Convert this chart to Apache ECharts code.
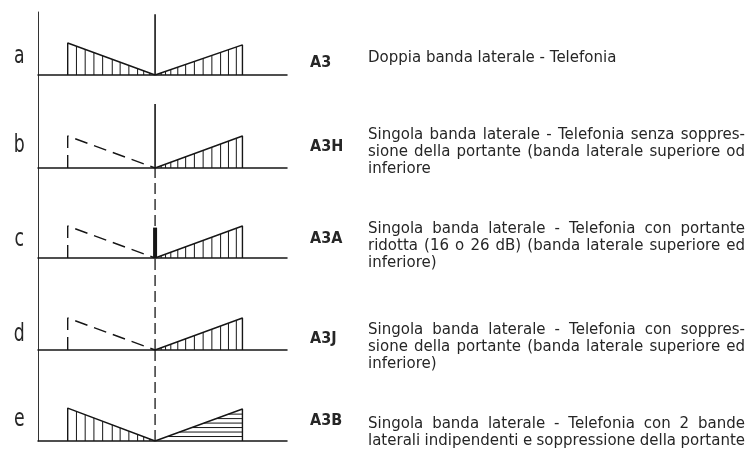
<!DOCTYPE html>
<html>
<head>
<meta charset="utf-8">
<script src="https://cdn.jsdelivr.net/npm/echarts@6/dist/echarts.min.js"></script>
<style>
  html, body { margin: 0; padding: 0; background: #fff; }
  #main { width: 750px; height: 449px; }
</style>
</head>
<body>
<div id="main"></div>
<script>
// --- data ---
var panels = ['a', 'b', 'c', 'd', 'e'];
var codes = ['A3', 'A3H', 'A3A', 'A3J', 'A3B'];
// sideband amplitude (1 = nominal sideband)
var lowerAmp = [1.0, 1.0, 1.0, 1.0, 1.03];
var upperAmp = [0.94, 1.0, 1.0, 1.0, 1.0];
// carrier amplitude, 0 = suppressed
var carrierAmp = [1.9, 2.0, 0.95, 0, 0];
// lower sideband suppressed (drawn dashed)
var lowerSuppressed = [false, true, true, true, false];
// upper sideband hatched horizontally (independent sideband)
var upperHorizontal = [false, false, false, false, true];
// hatch positions (frequency offset from carrier, band edge = 1)
var hatchLower = [-0.9, -0.8, -0.7, -0.6, -0.49, -0.4, -0.3, -0.2, -0.13, -0.06];
var hatchUpper = [0.07, 0.12, 0.18, 0.26, 0.35, 0.45, 0.55, 0.65, 0.75, 0.84, 0.93];
var hatchLevels = [0.14, 0.28, 0.42, 0.56, 0.7, 0.84];

var descriptions = [
  ['Doppia banda laterale - Telefonia'],
  ['Singola banda laterale - Telefonia senza soppres-',
   'sione della portante (banda laterale superiore od',
   'inferiore'],
  ['Singola banda laterale - Telefonia con portante',
   'ridotta (16 o 26 dB) (banda laterale superiore ed',
   'inferiore)'],
  ['Singola banda laterale - Telefonia con soppres-',
   'sione della portante (banda laterale superiore ed',
   'inferiore)'],
  ['Singola banda laterale - Telefonia con 2 bande',
   'laterali indipendenti e soppressione della portante']
];

// --- layout ---
var gridTop = [12, 75, 168, 258, 350];
var gridBottom = [75, 168, 258, 350, 441];
var unitPx = 32;
var ink = '#161616';
var textInk = '#262626';
var letterY = [57, 146, 240, 335, 420];
var codeY = [63, 147, 239, 339, 421];
var textY = [58, 135, 229, 330, 424];
var lineGap = 17.3;
var textLeft = 368, textRight = 745;
var textFont = '15px "DejaVu Sans"';

var chart = echarts.init(document.getElementById('main'));

function segRender(params, api) {
  var p0 = api.coord([api.value(0), api.value(1)]);
  var p1 = api.coord([api.value(2), api.value(3)]);
  return {
    type: 'line',
    shape: { x1: p0[0], y1: p0[1], x2: p1[0], y2: p1[1] },
    style: { stroke: ink, lineWidth: 1 }
  };
}

var grids = [], xAxes = [], yAxes = [], series = [];
panels.forEach(function (p, i) {
  var h = gridBottom[i] - gridTop[i];
  var ymax = h / unitPx;
  grids.push({ left: 38, width: 249, top: gridTop[i], height: h });
  xAxes.push({
    gridIndex: i, type: 'value', min: -1.34, max: 1.51,
    axisLine: { show: true, onZero: false, lineStyle: { color: ink, width: 1.5 } },
    axisTick: { show: false }, axisLabel: { show: false }, splitLine: { show: false }
  });
  yAxes.push({
    gridIndex: i, type: 'value', min: 0, max: ymax,
    axisLine: { show: true, onZero: false, lineStyle: { color: '#333', width: 1 } },
    axisTick: { show: false }, axisLabel: { show: false }, splitLine: { show: false }
  });

  var la = lowerAmp[i], ua = upperAmp[i];
  // dashed centre line for suppressed / reduced carrier
  if (carrierAmp[i] < 1.5) {
    series.push({
      type: 'line', xAxisIndex: i, yAxisIndex: i, symbol: 'none', silent: true,
      data: [[0, 0], [0, ymax]],
      lineStyle: { color: ink, width: 1.3, type: [11, 5] }
    });
  }
  // lower sideband envelope
  series.push({
    type: 'line', xAxisIndex: i, yAxisIndex: i, symbol: 'none', silent: true,
    data: [[-1, 0], [-1, la], [0, 0]],
    lineStyle: { color: ink, width: 1.4, type: lowerSuppressed[i] ? [13, 7] : 'solid' }
  });
  // upper sideband envelope
  series.push({
    type: 'line', xAxisIndex: i, yAxisIndex: i, symbol: 'none', silent: true,
    data: [[0, 0], [1, ua], [1, 0]],
    lineStyle: { color: ink, width: 1.4 }
  });
  // carrier
  if (carrierAmp[i] > 0) {
    series.push({
      type: 'line', xAxisIndex: i, yAxisIndex: i, symbol: 'none', silent: true,
      data: [[0, 0], [0, carrierAmp[i]]],
      lineStyle: { color: ink, width: carrierAmp[i] < 1.5 ? 4 : 1.6 }
    });
  }
  // hatching
  var segs = [];
  if (!lowerSuppressed[i]) {
    hatchLower.forEach(function (x) { segs.push([x, 0, x, -x * la]); });
  }
  if (upperHorizontal[i]) {
    hatchLevels.forEach(function (l) { segs.push([l, l * ua, 1, l * ua]); });
  } else {
    hatchUpper.forEach(function (x) { segs.push([x, 0, x, x * ua]); });
  }
  series.push({
    type: 'custom', xAxisIndex: i, yAxisIndex: i, silent: true,
    renderItem: segRender, encode: { x: [0, 2], y: [1, 3] },
    data: segs
  });
});

// --- texts ---
var ctx = document.createElement('canvas').getContext('2d');
ctx.font = textFont;
var graphics = [];
panels.forEach(function (p, i) {
  graphics.push({
    type: 'text', x: 15, y: letterY[i], scaleX: 0.72, originX: 15, originY: letterY[i],
    style: {
      text: p, fill: textInk, font: '24px "DejaVu Sans"',
      align: 'center', verticalAlign: 'middle'
    }
  });
  graphics.push({
    type: 'text', x: 310, y: codeY[i],
    style: {
      text: codes[i], fill: textInk, font: 'bold 16px "DejaVu Sans Condensed", "Liberation Sans Narrow", sans-serif',
      align: 'left', verticalAlign: 'middle'
    }
  });
  var lines = descriptions[i];
  lines.forEach(function (line, k) {
    var y = textY[i] + k * lineGap;
    var natural = ctx.measureText(line).width;
    var justify = (k < lines.length - 1) || natural > 0.9 * (textRight - textLeft);
    if (!justify) {
      graphics.push({
        type: 'text', x: textLeft, y: y,
        style: { text: line, fill: textInk, font: textFont, align: 'left', verticalAlign: 'middle' }
      });
      return;
    }
    var words = line.split(' ');
    var widths = words.map(function (w) { return ctx.measureText(w).width; });
    var sum = widths.reduce(function (a, b) { return a + b; }, 0);
    var gap = (textRight - textLeft - sum) / (words.length - 1);
    var x = textLeft;
    words.forEach(function (w, j) {
      graphics.push({
        type: 'text', x: x, y: y,
        style: { text: w, fill: textInk, font: textFont, align: 'left', verticalAlign: 'middle' }
      });
      x += widths[j] + gap;
    });
  });
});

chart.setOption({
  backgroundColor: '#fff',
  animation: false,
  grid: grids,
  xAxis: xAxes,
  yAxis: yAxes,
  series: series,
  graphic: graphics
});
</script>
</body>
</html>
